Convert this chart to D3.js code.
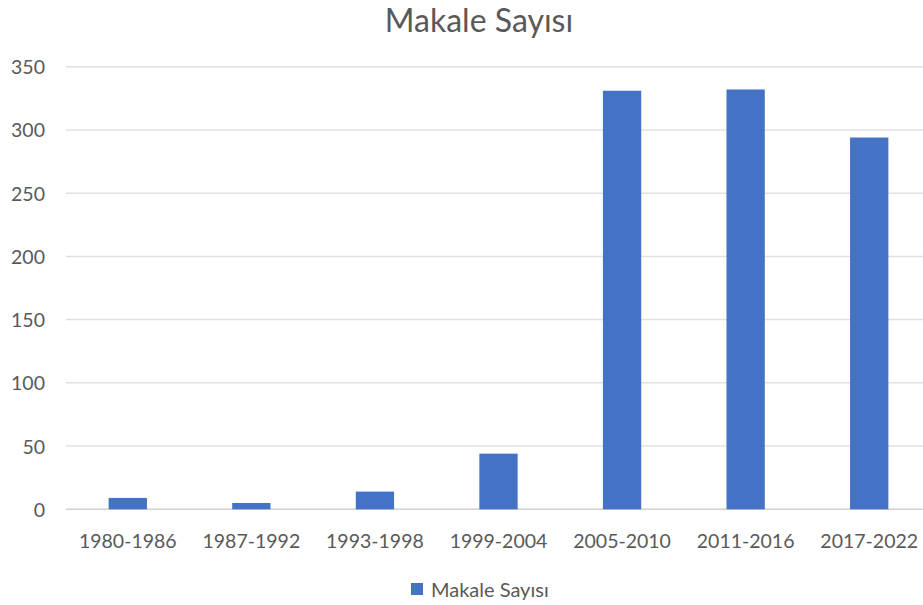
<!DOCTYPE html>
<html>
<head>
<meta charset="utf-8">
<script src="https://cdn.jsdelivr.net/npm/d3@7"></script>
<style>
  body { margin: 0; background: #fff; }
  svg { display: block; font-family: Lato, "Open Sans", sans-serif; }
</style>
</head>
<body>
<div id="chart"></div>
<script>
// Veriler
const categories = ["1980-1986", "1987-1992", "1993-1998", "1999-2004", "2005-2010", "2011-2016", "2017-2022"];
const values = [9, 5, 14, 44, 331, 332, 294];
const yTicks = [0, 50, 100, 150, 200, 250, 300, 350];
const seriesName = "Makale Sayısı";

const width = 923, height = 605;
const barColor = "#4472c4";

const svg = d3.select("#chart").append("svg")
  .attr("width", width)
  .attr("height", height);

const x = d3.scaleBand()
  .domain(categories)
  .range([66, 931])
  .paddingInner(0.69)
  .paddingOuter(0.345);

const y = d3.scaleLinear()
  .domain([0, 350])
  .range([509.3, 66.7]);

// Gridlines
svg.append("g")
  .selectAll("line")
  .data(yTicks)
  .join("line")
  .attr("x1", 66)
  .attr("x2", width)
  .attr("y1", d => y(d))
  .attr("y2", d => y(d))
  .attr("stroke", d => d === 0 ? "#d0d0d0" : "#e0e0e0")
  .attr("stroke-width", 1.5);

// Y axis labels
svg.append("g")
  .selectAll("text")
  .data(yTicks)
  .join("text")
  .attr("x", 45)
  .attr("y", d => y(d))
  .attr("text-anchor", "end")
  .attr("dominant-baseline", "central")
  .attr("font-size", 19.5)
  .attr("fill", "#595959")
  .text(d => d);

// Bars
svg.append("g")
  .selectAll("rect")
  .data(values)
  .join("rect")
  .attr("x", (d, i) => x(categories[i]))
  .attr("width", x.bandwidth())
  .attr("y", d => y(d))
  .attr("height", d => y(0) - y(d))
  .attr("fill", barColor);

// X labels
svg.append("g")
  .selectAll("text")
  .data(categories)
  .join("text")
  .attr("x", d => x(d) + x.bandwidth() / 2)
  .attr("y", 540)
  .attr("text-anchor", "middle")
  .attr("dominant-baseline", "central")
  .attr("font-size", 19.5)
  .attr("fill", "#595959")
  .text(d => d);

// Title
svg.append("text")
  .attr("x", 479)
  .attr("y", 19)
  .attr("text-anchor", "middle")
  .attr("dominant-baseline", "central")
  .attr("font-size", 32)
  .attr("fill", "#595959")
  .text(seriesName);

// Legend
const legend = svg.append("g");
legend.append("rect")
  .attr("x", 411)
  .attr("y", 583)
  .attr("width", 12)
  .attr("height", 12)
  .attr("fill", barColor);
legend.append("text")
  .attr("x", 431)
  .attr("y", 589)
  .attr("dominant-baseline", "central")
  .attr("font-size", 20)
  .attr("fill", "#595959")
  .text(seriesName);
</script>
</body>
</html>
